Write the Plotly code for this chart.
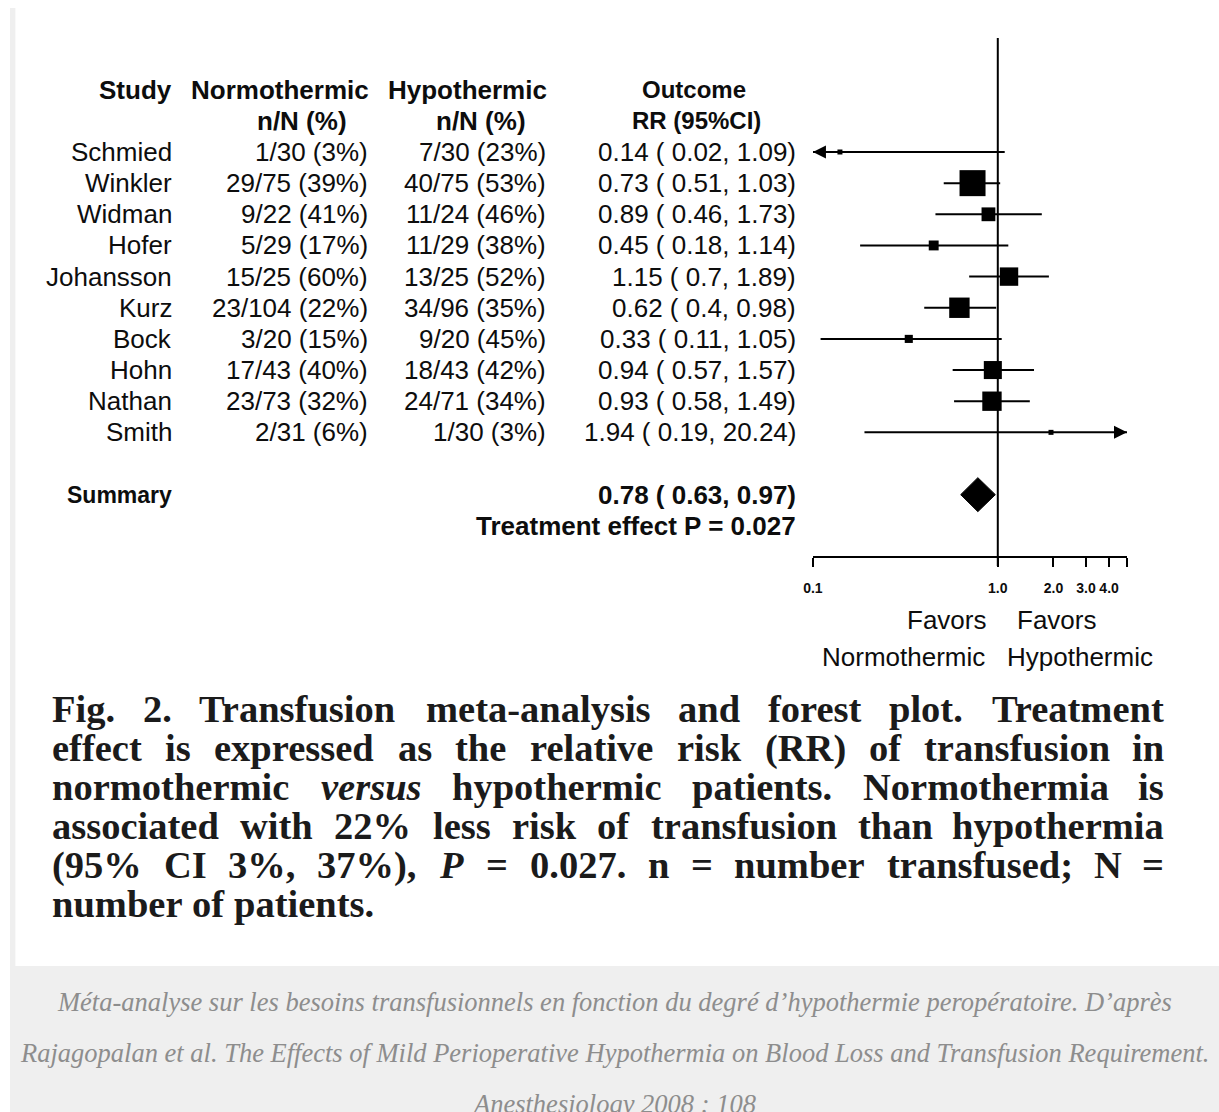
import numpy as np
import plotly.graph_objects as go

# ---- data -------------------------------------------------------------
studies = ["Schmied", "Winkler", "Widman", "Hofer", "Johansson",
           "Kurz", "Bock", "Hohn", "Nathan", "Smith"]
normo_events = [1, 29, 9, 5, 15, 23, 3, 17, 23, 2]
normo_total = [30, 75, 22, 29, 25, 104, 20, 43, 73, 31]
hypo_events = [7, 40, 11, 11, 13, 34, 9, 18, 24, 1]
hypo_total = [30, 75, 24, 29, 25, 96, 20, 43, 71, 30]
rr = [0.14, 0.73, 0.89, 0.45, 1.15, 0.62, 0.33, 0.94, 0.93, 1.94]
rr_low = [0.02, 0.51, 0.46, 0.18, 0.7, 0.4, 0.11, 0.57, 0.58, 0.19]
rr_high = [1.09, 1.03, 1.73, 1.14, 1.89, 0.98, 1.05, 1.57, 1.49, 20.24]
summary_rr, summary_low, summary_high = 0.78, 0.63, 0.97
p_value = "0.027"
tick_values = [0.1, 1, 2, 3, 4, 5]
tick_labels = ["0.1", "1.0", "2.0", "3.0", "4.0", ""]

caption_lines = [
    "Fig. 2. Transfusion meta-analysis and forest plot. Treatment",
    "effect is expressed as the relative risk (RR) of transfusion in",
    "normothermic _versus_ hypothermic patients. Normothermia is",
    "associated with 22% less risk of transfusion than hypothermia",
    "(95% CI 3%, 37%), _P_ = 0.027. n = number transfused; N =",
    "number of patients.",
]
source_lines = [
    "Méta-analyse sur les besoins transfusionnels en fonction du degré d’hypothermie peropératoire. D’après",
    "Rajagopalan et al. The Effects of Mild Perioperative Hypothermia on Blood Loss and Transfusion Requirement.",
    "Anesthesiology 2008 : 108",
]

# ---- page geometry ----------------------------------------------------
W, H = 1219, 1112
ROW0, PITCH = 152.0, 31.15          # pixel of first study row, row spacing
X_MIN, X_MAX = 0.1, 5.0
PX_AT_MIN, PX_PER_DECADE = 813.0, 185.0
PX_AT_MAX = PX_AT_MIN + PX_PER_DECADE * np.log10(X_MAX / X_MIN)
# the page is shown slightly shifted and narrowed horizontally; place
# everything through this mapping so it lands on the intended pixel
X_SHIFT, X_SCALE = 9.6, 0.9924

SANS = "Liberation Sans"
SERIF = "Liberation Serif"
INK = "#0d0d0d"
TABLE_SIZE = 26
LABEL_SIZE = 24


def row_of(px):
    return (px - ROW0) / PITCH


def px_x(px):
    return max((px - X_SHIFT) / X_SCALE, 0) / W


def px_y(px):
    return 1 - px / H


fig = go.Figure()


def add_text(text, x_px, y, yref="y", anchor="right", size=TABLE_SIZE,
             bold=False, italic=False, family=SANS, color=INK):
    fig.add_annotation(
        x=px_x(x_px), xref="paper", y=y, yref=yref, text=text,
        showarrow=False, xanchor=anchor, yanchor="middle", borderpad=0,
        font=dict(family=family, size=size, color=color,
                  weight="bold" if bold else "normal",
                  style="italic" if italic else "normal"),
    )


n_st = len(studies)
summary_row = n_st + 1
effect_row = n_st + 2

# ---- confidence intervals (clipped to the axis range) -----------------
ci_x, ci_y = [], []
for i in range(n_st):
    ci_x += [max(rr_low[i], X_MIN), min(rr_high[i], X_MAX), None]
    ci_y += [i, i, None]
fig.add_trace(go.Scatter(x=ci_x, y=ci_y, mode="lines",
                         line=dict(color="black", width=2), hoverinfo="skip"))

# arrows where an interval runs past the axis
for i in range(n_st):
    if rr_low[i] < X_MIN:
        tip = np.log10(X_MIN)
        fig.add_annotation(x=tip, y=i, ax=tip + 0.06, ay=i, xref="x", yref="y",
                           axref="x", ayref="y", text="", showarrow=True,
                           arrowhead=2, arrowsize=1.3, arrowwidth=2,
                           arrowcolor="black", standoff=0)
    if rr_high[i] > X_MAX:
        tip = np.log10(X_MAX)
        fig.add_annotation(x=tip, y=i, ax=tip - 0.06, ay=i, xref="x", yref="y",
                           axref="x", ayref="y", text="", showarrow=True,
                           arrowhead=2, arrowsize=1.3, arrowwidth=2,
                           arrowcolor="black", standoff=0)

# line of no effect
fig.add_trace(go.Scatter(x=[1, 1], y=[row_of(38), row_of(566)], mode="lines",
                         line=dict(color="black", width=2), hoverinfo="skip"))

# study boxes: side proportional to 1/SE of log RR
se = (np.log(rr_high) - np.log(rr_low)) / (2 * 1.96)
inv_se = 1 / se
box = np.maximum(26 * inv_se / inv_se.max(), 5)
fig.add_trace(go.Scatter(x=rr, y=list(range(n_st)), mode="markers",
                         marker=dict(symbol="square", size=box, color="black",
                                     opacity=1, line=dict(width=0)),
                         hoverinfo="skip"))

# pooled estimate diamond
half_h = 17 / PITCH
fig.add_trace(go.Scatter(
    x=[summary_low, summary_rr, summary_high, summary_rr, summary_low],
    y=[summary_row, summary_row - half_h, summary_row, summary_row + half_h, summary_row],
    mode="lines", fill="toself", fillcolor="black",
    line=dict(color="black", width=1), hoverinfo="skip"))

# ---- table text ------------------------------------------------------
STUDY_R, NORMO_R, HYPO_R, OUT_R = 173, 369, 547, 797

add_text("Study", STUDY_R, -2, bold=True)
add_text("Normothermic", 370, -2, bold=True)
add_text("Hypothermic", 548, -2, bold=True)
add_text("Outcome", 694, -2, anchor="center", bold=True, size=LABEL_SIZE)
add_text("n/N (%)", 348, -1, bold=True)
add_text("n/N (%)", 527, -1, bold=True)
add_text("RR (95%CI)", 697, -1, anchor="center", bold=True, size=LABEL_SIZE)

for i, name in enumerate(studies):
    add_text(name, STUDY_R, i)
    add_text(f"{normo_events[i]}/{normo_total[i]} ({round(100 * normo_events[i] / normo_total[i])}%)",
             NORMO_R, i)
    add_text(f"{hypo_events[i]}/{hypo_total[i]} ({round(100 * hypo_events[i] / hypo_total[i])}%)",
             HYPO_R, i)
    add_text(f"{rr[i]:g} ( {rr_low[i]:g}, {rr_high[i]:g})", OUT_R, i)

add_text("Summary", STUDY_R, summary_row, bold=True, size=23)
add_text(f"{summary_rr:g} ( {summary_low:g}, {summary_high:g})", OUT_R, summary_row, bold=True)
add_text(f"Treatment effect P = {p_value}", OUT_R, effect_row, bold=True)

# direction labels under the axis
add_text("Favors", 987, px_y(620), yref="paper")
add_text("Normothermic", 986, px_y(657), yref="paper")
add_text("Favors", 1016, px_y(620), yref="paper", anchor="left")
add_text("Hypothermic", 1006, px_y(657), yref="paper", anchor="left")

# ---- justified figure legend -------------------------------------------
CAP_SIZE = 38.5
CAP_LEFT, CAP_RIGHT = 51, 1165
CAP_BASE0, CAP_STEP = 722, 39
TIMES_BOLD = {" ": 250, "%": 1000, "(": 333, ")": 333, ",": 250, "-": 333,
              ".": 250, ";": 333, "=": 570,
              "A": 722, "C": 722, "F": 611, "I": 389, "N": 722, "P": 611,
              "R": 722, "T": 667,
              "a": 500, "b": 556, "c": 444, "d": 556, "e": 444, "f": 333,
              "g": 500, "h": 556, "i": 278, "k": 556, "l": 278, "m": 833,
              "n": 556, "o": 500, "p": 556, "r": 444, "s": 389, "t": 333,
              "u": 556, "v": 500, "w": 722, "x": 500, "y": 500}
TIMES_BOLD_ITALIC = {"v": 444, "e": 444, "r": 389, "s": 389, "u": 556, "P": 667}


def word_width(word, italic):
    total = 0
    for ch in word:
        if italic and ch in TIMES_BOLD_ITALIC:
            total += TIMES_BOLD_ITALIC[ch]
        else:
            total += TIMES_BOLD.get(ch, 500)
    return total * CAP_SIZE / 1000


for k, line in enumerate(caption_lines):
    parts = [(w.strip("_"), w.startswith("_")) for w in line.split(" ")]
    widths = [word_width(t, it) for t, it in parts]
    justify = k < len(caption_lines) - 1
    if justify:
        gap = (CAP_RIGHT - CAP_LEFT - sum(widths)) / (len(parts) - 1)
    else:
        gap = TIMES_BOLD[" "] * CAP_SIZE / 1000
    y_mid = CAP_BASE0 + CAP_STEP * k - 0.3375 * CAP_SIZE
    x = CAP_LEFT
    for j, (t, it) in enumerate(parts):
        txt = f"<i>{t}</i>" if it else t
        if justify and j == len(parts) - 1:
            add_text(txt, CAP_RIGHT, px_y(y_mid), yref="paper", anchor="right",
                     size=CAP_SIZE, bold=True, family=SERIF, color="#1b1b1b")
        else:
            add_text(txt, x, px_y(y_mid), yref="paper", anchor="left",
                     size=CAP_SIZE, bold=True, family=SERIF, color="#1b1b1b")
        x += widths[j] + gap

# ---- source note on grey band -----------------------------------------
SRC_SIZE = 26.5
for k, line in enumerate(source_lines):
    y_mid = 1011 + 51 * k - 0.3375 * SRC_SIZE
    add_text(line, 614, px_y(y_mid), yref="paper", anchor="center",
             size=SRC_SIZE, italic=True, family=SERIF, color="#8d8d8d")

# ---- layout -----------------------------------------------------------
fig.update_layout(
    width=W, height=H, autosize=False,
    margin=dict(l=0, r=0, t=0, b=0, pad=0),
    paper_bgcolor="white", plot_bgcolor="rgba(0,0,0,0)",
    showlegend=False,
    xaxis=dict(
        type="log",
        range=[np.log10(X_MIN) - 1e-4, np.log10(X_MAX) + 1e-4],
        domain=[px_x(PX_AT_MIN), px_x(PX_AT_MAX)],
        anchor="free", position=px_y(557),
        showline=True, linecolor="black", linewidth=2,
        ticks="outside", ticklen=9, tickwidth=2, tickcolor="black",
        tickvals=tick_values, ticktext=tick_labels,
        tickfont=dict(family=SANS, size=14, color=INK, weight="bold"),
        ticklabelstandoff=9,
        showgrid=False, zeroline=False, fixedrange=True,
    ),
    yaxis=dict(
        range=[row_of(H), row_of(0)], domain=[0, 1],
        visible=False, showgrid=False, zeroline=False, fixedrange=True,
    ),
    shapes=[
        dict(type="rect", xref="paper", yref="paper", x0=px_x(9), x1=1,
             y0=0, y1=px_y(8), fillcolor="#efefef", line=dict(width=0),
             layer="below"),
        dict(type="rect", xref="paper", yref="paper", x0=px_x(15), x1=1,
             y0=px_y(966), y1=px_y(8), fillcolor="white", line=dict(width=0),
             layer="below"),
    ],
)

fig.write_html("out.html", include_plotlyjs=True, config={"displayModeBar": False})
